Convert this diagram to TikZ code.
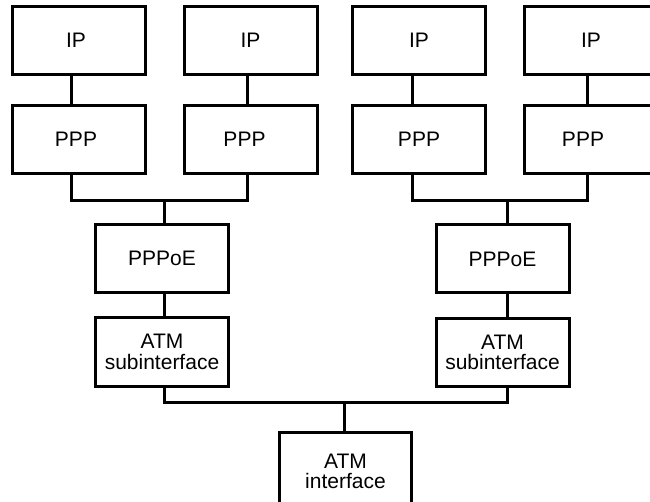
\documentclass[tikz,border=0pt]{standalone}
\usepackage{fontspec}
\setmainfont{Liberation Sans}
\begin{document}
\begin{tikzpicture}[x=1pt,y=-1pt,
  box/.style={draw, line width=3pt, minimum width=133pt, minimum height=68pt,
    inner sep=0pt, align=center, font=\fontsize{21}{20.5}\selectfont, anchor=center},
  link/.style={line width=3pt}]
\useasboundingbox (0,0) rectangle (650,502);
\clip (0,0) rectangle (650,502);
% top rows
\node[box] (ip1) at (79,40.5) {\hspace*{-6pt}IP};
\node[box] (ip2) at (250.5,40.5) {IP};
\node[box] (ip3) at (419,40.5) {IP};
\node[box] (ip4) at (591,40.5) {IP};
\node[box] (ppp1) at (79,139.5) {\hspace*{-6pt}PPP};
\node[box] (ppp2) at (250.5,139.5) {\hspace*{-12pt}PPP};
\node[box] (ppp3) at (419,139.5) {PPP};
\node[box] (ppp4) at (591,139.5) {\hspace*{-16pt}PPP};
% middle
\node[box] (pppoe1) at (162,258.5) {PPPoE};
\node[box] (pppoe2) at (502.5,259) {PPPoE};
\node[box] (sub1) at (162,352) {ATM\\subinterface};
\node[box] (sub2) at (502.5,352.5) {ATM\\subinterface};
% bottom
\node[box, minimum width=132pt, minimum height=78pt] (atm) at (345.5,471.5) {ATM\\interface};
% connectors IP-PPP
\draw[link] (ip1.south -| 71,0) -- (ppp1.north -| 71,0);
\draw[link] (ip2.south -| 247,0) -- (ppp2.north -| 247,0);
\draw[link] (ip3.south -| 412,0) -- (ppp3.north -| 412,0);
\draw[link] (ip4.south -| 587,0) -- (ppp4.north -| 587,0);
% PPP to PPPoE buses
\coordinate (busL) at (164,201);
\coordinate (busR) at (507,201);
\draw[link] (ppp1.south -| 71,0) |- (busL) -| (ppp2.south -| 247,0);
\draw[link] (busL) -- (pppoe1.north -| busL);
\draw[link] (ppp3.south -| 412,0) |- (busR) -| (ppp4.south -| 587,0);
\draw[link] (busR) -- (pppoe2.north -| busR);
% PPPoE to sub
\draw[link] (pppoe1.south -| 164,0) -- (sub1.north -| 164,0);
\draw[link] (pppoe2.south -| 507,0) -- (sub2.north -| 507,0);
% sub to ATM interface
\coordinate (busB) at (344,402);
\draw[link] (sub1.south -| 164,0) |- (busB) -| (sub2.south -| 507,0);
\draw[link] (busB) -- (atm.north -| busB);
\end{tikzpicture}
\end{document}
